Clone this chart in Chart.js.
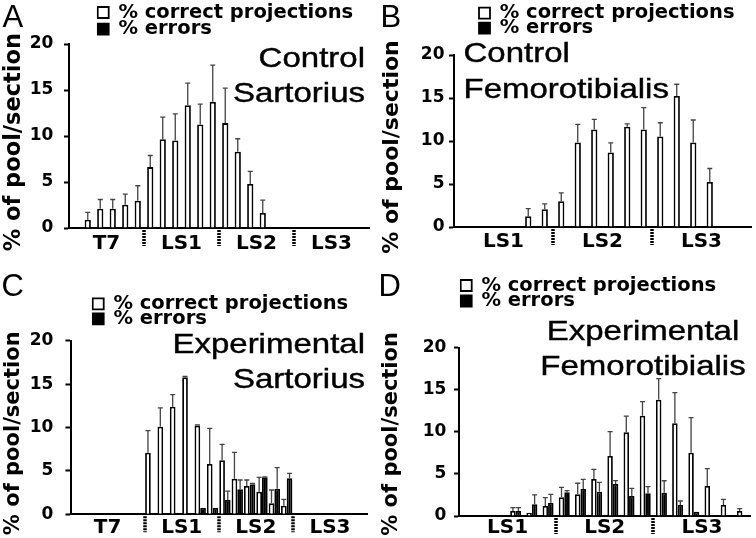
<!DOCTYPE html>
<html><head><meta charset="utf-8">
<script src="https://cdn.jsdelivr.net/npm/chart.js@4.4.1/dist/chart.umd.min.js"></script>
<style>
html,body{margin:0;padding:0;background:#fff;}
#wrap{position:relative;width:756px;height:538px;overflow:hidden;background:#fff;}
canvas{position:absolute;}
</style></head><body>
<div id="wrap">
<canvas id="cA" width="378" height="269" style="left:0;top:0"></canvas>
<canvas id="cB" width="378" height="269" style="left:378px;top:0"></canvas>
<canvas id="cC" width="378" height="269" style="left:0;top:269px"></canvas>
<canvas id="cD" width="378" height="269" style="left:378px;top:269px"></canvas>
</div>
<script>
// ---- categories (sections) and segment labels ----
const sections24 = ['1','2','3','4','5','6','7','8','9','10','11','12','13','14','15','16','17','18','19','20','21','22','23','24'];
const sections18 = ['1','2','3','4','5','6','7','8','9','10','11','12','13','14','15','16','17','18'];
const segmentsT7toLS3 = ['T7','LS1','LS2','LS3'];
const segmentsLS1toLS3 = ['LS1','LS2','LS3'];
const yTicks = [0, 5, 10, 15, 20];
const seriesNames = ['% correct projections', '% errors'];
const yTitle = '% of pool/section';

// ---- A: Control Sartorius ----
const aCorrect    = [0, 0.9, 2.1, 2.1, 2.53, 2.96, 6.62, 9.66, 9.51, 13.35, 11.25, 13.71, 11.4, 8.28, 4.78, 1.63, 0, 0, 0, 0, 0, 0, 0, 0];
const aCorrectErr = [0, 0.8, 1.0, 1.0, 1.16, 1.63, 1.26, 2.39, 2.9, 2.39, 2.21, 3.99, 3.8, 1.42, 1.37, 1.41, 0, 0, 0, 0, 0, 0, 0, 0];
const aErrors     = [null, null, null, null, null, null, null, null, null, null, null, null, null, null, null, null, null, null, null, null, null, null, null, null];

// ---- B: Control Femorotibialis ----
const bCorrect    = [0, 0, 0, 0, 1.25, 2.06, 3.0, 9.83, 11.35, 8.67, 11.66, 11.35, 10.53, 15.23, 9.83, 5.25, 0, 0];
const bCorrectErr = [0, 0, 0, 0, 0.89, 0.62, 0.97, 2.1, 1.17, 1.12, 0.34, 2.52, 1.59, 1.37, 2.61, 1.55, 0, 0];
const bErrors     = [null, null, null, null, null, null, null, null, null, null, null, null, null, null, null, null, null, null];

// ---- C: Experimental Sartorius ----
const cCorrect    = [0, 0, 0, 0, 0, 0, 7.1, 10.09, 12.4, 15.78, 10.2, 5.8, 6.22, 4.1, 3.26, 2.6, 1.27, 0.99, 0, 0, 0, 0, 0, 0];
const cCorrectErr = [0, 0, 0, 0, 0, 0, 2.53, 2.16, 1.38, 0.12, 0.09, 4.1, 1.84, 3.04, 0.69, 1.66, 1.53, 0.74, 0, 0, 0, 0, 0, 0];
const cErrors     = [0, 0, 0, 0, 0, 0, 0.1, 0.1, 0.1, 0.1, 0.72, 0.72, 1.65, 2.88, 3.46, 4.26, 2.95, 4.15, 0, 0, 0, 0, 0, 0];
const cErrorsErr  = [0, 0, 0, 0, 0, 0, 0, 0, 0, 0, 0, 0, 1.03, 1.07, 0.1, 0.05, 2.42, 0.57, 0, 0, 0, 0, 0, 0];

// ---- D: Experimental Femorotibialis ----
const dCorrect    = [0, 0, 0, 0.59, 0.39, 1.19, 2.22, 2.58, 4.4, 7.13, 9.94, 11.92, 13.82, 11.02, 7.52, 3.56, 1.31, 0.59];
const dCorrectErr = [0, 0, 0, 0.4, 0, 0.99, 1.19, 1.31, 1.15, 2.89, 1.94, 1.66, 2.5, 3.63, 4.16, 2.06, 0.67, 0.28];
const dErrors     = [0, 0, 0, 0.59, 1.39, 1.58, 2.82, 3.21, 2.89, 3.8, 2.38, 2.7, 2.77, 1.31, 0.51, 0, 0, 0];
const dErrorsErr  = [0, 0, 0, 0.4, 1.11, 1.0, 0.2, 1.15, 1.11, 0.4, 0.91, 0.78, 1.42, 0.47, 0, 0, 0, 0];

// ---------------- plugins ----------------
const errorBarPlugin = {
  id: 'errorBars',
  afterDatasetsDraw(chart, args, o) {
    const ctx = chart.ctx, ys = chart.scales.y;
    chart.data.datasets.forEach((ds, i) => {
      if (!ds.errors) return;
      const meta = chart.getDatasetMeta(i);
      meta.data.forEach((el, j) => {
        const v = ds.data[j], e = ds.errors[j];
        if (v == null || !e) return;
        const yt = ys.getPixelForValue(v + e);
        ctx.save();
        ctx.strokeStyle = o.color; ctx.lineWidth = o.width;
        ctx.beginPath();
        ctx.moveTo(el.x, el.y); ctx.lineTo(el.x, yt);
        ctx.moveTo(el.x - o.cap, yt); ctx.lineTo(el.x + o.cap, yt);
        ctx.stroke();
        ctx.restore();
      });
    });
  }
};
const separatorPlugin = {
  id: 'segSeparators',
  afterDraw(chart, args, o) {
    const s = chart.scales.xl, ctx = chart.ctx, b = chart.chartArea.bottom;
    ctx.save();
    ctx.strokeStyle = '#000'; ctx.lineWidth = o.width; ctx.setLineDash(o.dash);
    for (let k = 1; k < s.ticks.length; k++) {
      const x = Math.round((s.getPixelForTick(k - 1) + s.getPixelForTick(k)) / 2);
      ctx.beginPath(); ctx.moveTo(x, b + 2); ctx.lineTo(x, b + o.length); ctx.stroke();
    }
    ctx.restore();
  }
};
const legendPlacePlugin = {
  id: 'legendPlace',
  afterLayout(chart, args, o) {
    const L = chart.legend; if (!L) return;
    L.left = o.x - o.pad; L.top = o.y - o.pad;
    L.width = 370; L.height = 200;
    L.right = L.left + L.width; L.bottom = L.top + L.height;
  }
};
const panelTextPlugin = {
  id: 'panelText',
  afterDraw(chart, args, o) {
    const ctx = chart.ctx;
    ctx.save();
    ctx.fillStyle = '#000';
    ctx.strokeStyle = '#000';
    ctx.textBaseline = 'alphabetic';
    ctx.textAlign = 'left';
    ctx.font = o.letterFont;
    ctx.fillText(o.letter, o.letterX, o.letterY);
    ctx.font = o.titleFont;
    ctx.textAlign = o.align;
    ctx.lineWidth = o.stroke;
    o.lines.forEach((t, k) => {
      ctx.save();
      ctx.translate(o.x, o.y[k]);
      ctx.scale(1, o.sy);
      ctx.fillText(t, 0, 0);
      ctx.strokeText(t, 0, 0);
      ctx.restore();
    });
    ctx.restore();
  }
};

const BOLD = '"DejaVu Sans"';
function makePanel(id, p) {
  const legendFont = 19.5, boxH = 11, lpad = 1;
  const datasets = [
    { label: seriesNames[0], data: p.correct, errors: p.correctErr, backgroundColor: '#fff', borderColor: '#000', borderWidth: 1.8,
      barPercentage: p.barPct, categoryPercentage: p.catPct, xAxisID: 'x', yAxisID: 'y' },
    { label: seriesNames[1], data: p.errorsData, errors: p.errorsErr, backgroundColor: '#000', borderColor: '#000', borderWidth: 1.8,
      barPercentage: p.barPct, categoryPercentage: p.catPct, xAxisID: 'x', yAxisID: 'y' }
  ];
  return new Chart(document.getElementById(id), {
    type: 'bar',
    data: { labels: p.labels, datasets },
    plugins: [errorBarPlugin, separatorPlugin, legendPlacePlugin, panelTextPlugin],
    options: {
      responsive: false, animation: false, events: [],
      skipNull: true,
      layout: { padding: { left: 0, top: p.top, right: 378 - p.right, bottom: 0 } },
      scales: {
        x: { type: 'category', display: false, offset: true },
        xl: { type: 'category', position: 'bottom', labels: p.segments, offset: true,
              grid: { display: false, drawTicks: false },
              border: { display: true, color: '#000', width: 2 },
              ticks: { color: '#000', font: { family: BOLD, weight: 'bold', size: 20 }, padding: p.xlPad, maxRotation: 0, autoSkip: false },
              afterFit(s) { s.height = 269 - p.bottom; } },
        y: { type: 'linear', min: yTicks[0], max: yTicks[yTicks.length - 1],
             ticks: { stepSize: 5, color: '#000', font: { family: BOLD, weight: 'bold', size: 17 }, padding: p.yPad },
             grid: { drawOnChartArea: false, drawTicks: true, tickLength: 5, tickWidth: 2, tickColor: '#000' },
             border: { display: true, color: '#000', width: 2 },
             title: { display: true, text: yTitle + p.titleTail, color: '#000', font: { family: BOLD, weight: 'bold', size: p.yTitleSize }, padding: { top: 1, bottom: 0 } },
             afterFit(s) { s.width = p.left; } }
      },
      plugins: {
        legend: { display: true, position: 'chartArea', align: 'start',
          labels: { color: '#000', font: { family: BOLD, weight: 'bold', size: legendFont, lineHeight: (p.legStep - lpad) + 'px' },
                    boxWidth: 11, boxHeight: boxH, padding: lpad,
                    generateLabels(chart) {
                      return Chart.defaults.plugins.legend.labels.generateLabels(chart).map(it => Object.assign(it, { text: [it.text] }));
                    } } },
        tooltip: { enabled: false },
        errorBars: { color: '#444', width: 1.3, cap: 2.5 },
        segSeparators: { width: 3.5, dash: [2, 1], length: 18 },
        legendPlace: { x: p.legX, y: p.legY - (legendFont - boxH) / 2, pad: lpad },
        panelText: { letter: p.letter, letterX: p.letterX, letterY: 26.7, letterFont: '31px "Liberation Sans"',
                     titleFont: '33px "Liberation Sans"', sy: 0.85, stroke: 0.5, lines: p.titles, align: p.titleAlign, x: p.titleX, y: p.titleY }
      }
    }
  });
}

makePanel('cA', { labels: sections24, segments: segmentsT7toLS3, correct: aCorrect, correctErr: aCorrectErr, errorsData: aErrors, errorsErr: null,
  left: 69, right: 369, top: 44, bottom: 228, barPct: 0.5, catPct: 1, yPad: 10.7, xlPad: 3.3,
  yTitleSize: 22.5, titleTail: '\u00a0\u2009',
  legX: 97.7, legY: 7, legStep: 16.7, letter: 'A', letterX: 2.5,
  titles: ['Control', 'Sartorius'], titleAlign: 'right', titleX: 365, titleY: [66.7, 101.7] });
makePanel('cB', { labels: sections18, segments: segmentsLS1toLS3, correct: bCorrect, correctErr: bCorrectErr, errorsData: bErrors, errorsErr: null,
  left: 76, right: 373, top: 55, bottom: 227, barPct: 0.38, catPct: 1, yPad: 4.5, xlPad: 2.6,
  yTitleSize: 22, titleTail: '\u00a0\u2009',
  legX: 101, legY: 7.7, legStep: 15, letter: 'B', letterX: 2.5,
  titles: ['Control', 'Femorotibialis'], titleAlign: 'left', titleX: 85.5, titleY: [61.7, 98.3] });
makePanel('cC', { labels: sections24, segments: segmentsT7toLS3, correct: cCorrect, correctErr: cCorrectErr, errorsData: cErrors, errorsErr: cErrorsErr,
  left: 70.5, right: 367, top: 71.7, bottom: 245.3, barPct: 1, catPct: 0.92, yPad: 12.2, xlPad: 1,
  yTitleSize: 21, titleTail: '\u00a0\u2009',
  legX: 92.7, legY: 29.3, legStep: 15, letter: 'C', letterX: 1.5,
  titles: ['Experimental', 'Sartorius'], titleAlign: 'right', titleX: 365, titleY: [84.3, 119.3] });
makePanel('cD', { labels: sections18, segments: segmentsLS1toLS3, correct: dCorrect, correctErr: dCorrectErr, errorsData: dErrors, errorsErr: dErrorsErr,
  left: 81, right: 372.5, top: 78.7, bottom: 247, barPct: 1, catPct: 0.68, yPad: 7.7, xlPad: 0,
  yTitleSize: 21, titleTail: '\u2009',
  legX: 82.7, legY: 11, legStep: 15.5, letter: 'D', letterX: 0.5,
  titles: ['Experimental', 'Femorotibialis'], titleAlign: 'center', titleX: 265, titleY: [71, 106] });
</script></body></html>
